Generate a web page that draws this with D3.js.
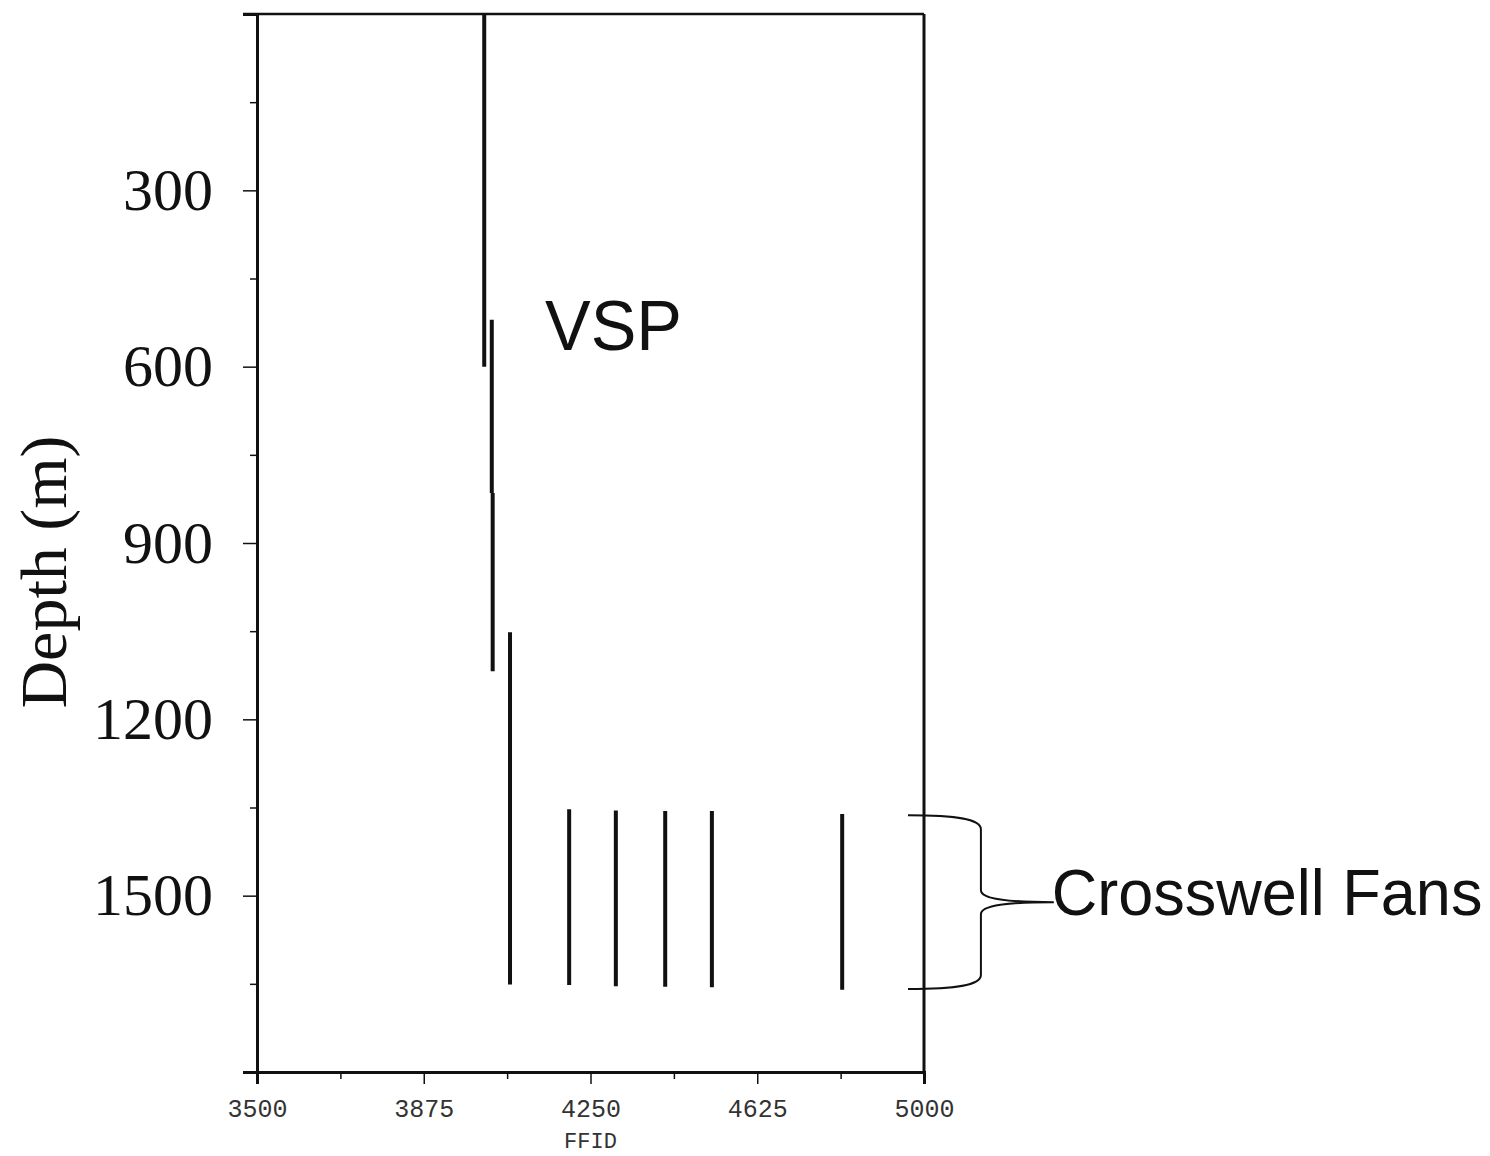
<!DOCTYPE html>
<html>
<head>
<meta charset="utf-8">
<script src="https://cdn.jsdelivr.net/npm/d3@7"></script>
<style>
  html, body { margin: 0; padding: 0; background: #fff; }
  svg { display: block; }
</style>
</head>
<body>
<svg id="chart" width="1490" height="1156"></svg>
<script>
// ---------- data ----------
const xTicks = [3500, 3875, 4250, 4625, 5000];
const xMinorTicks = [3687.5, 4062.5, 4437.5, 4812.5];
const yTicks = [0, 300, 600, 900, 1200, 1500, 1800];
const yLabelled = [300, 600, 900, 1200, 1500];
const yMinorTicks = [150, 450, 750, 1050, 1350, 1650];

// VSP segments (FFID, depth from, depth to)
const vspFfid   = [4011, 4028, 4030, 4069];
const vspTop    = [0, 520, 815, 1052];
const vspBottom = [600, 815, 1118, 1651];

// Crosswell fan segments
const fanFfid   = [4202, 4307, 4418, 4523, 4816];
const fanTop    = [1353, 1355, 1356, 1356, 1361];
const fanBottom = [1652, 1654, 1655, 1656, 1660];

// brace annotation (depth range, FFID positions outside the plot)
const braceDepth = [1363, 1659];
const braceFfid = [4964, 5128, 5292];

const labels = { x: "FFID", y: "Depth (m)", vsp: "VSP", fans: "Crosswell Fans" };

// ---------- scales ----------
const pLeft = 257, pRight = 924, pTop = 14, pBottom = 1072;
const x = d3.scaleLinear().domain([3500, 5000]).range([pLeft, pRight]);
const y = d3.scaleLinear().domain([0, 1800]).range([pTop, pBottom]);

const svg = d3.select("#chart");
svg.append("rect").attr("width", 1490).attr("height", 1156).attr("fill", "#fff");

// ---------- axes ----------
const serif = "'Liberation Serif', 'Times New Roman', serif";
const mono = "'Liberation Mono', 'DejaVu Sans Mono', monospace";
const sans = "'Liberation Sans', Arial, sans-serif";

// y minor
svg.append("g").attr("transform", `translate(${pLeft},0)`)
  .call(d3.axisLeft(y).tickValues(yMinorTicks).tickSize(7).tickFormat(""))
  .call(g => g.select(".domain").remove())
  .call(g => g.selectAll("line").attr("stroke", "#111").attr("stroke-width", 1.5));

// y major
svg.append("g").attr("transform", `translate(${pLeft},0)`)
  .call(d3.axisLeft(y).tickValues(yTicks).tickSize(14).tickPadding(30)
        .tickFormat(d => yLabelled.includes(d) ? d : ""))
  .call(g => g.select(".domain").attr("stroke", "#111").attr("stroke-width", 3))
  .call(g => g.selectAll("line").attr("stroke", "#111").attr("stroke-width", 1.5))
  .call(g => g.selectAll("text").attr("font-family", serif).attr("font-size", 60).attr("fill", "#111"));

// x minor
svg.append("g").attr("transform", `translate(0,${pBottom})`)
  .call(d3.axisBottom(x).tickValues(xMinorTicks).tickSize(7).tickFormat(""))
  .call(g => g.select(".domain").remove())
  .call(g => g.selectAll("line").attr("stroke", "#111").attr("stroke-width", 1.5));

// x major
svg.append("g").attr("transform", `translate(0,${pBottom})`)
  .call(d3.axisBottom(x).tickValues(xTicks).tickSize(12).tickPadding(15).tickFormat(d3.format("d")))
  .call(g => g.select(".domain").attr("stroke", "#111").attr("stroke-width", 3))
  .call(g => g.selectAll("line").attr("stroke", "#111").attr("stroke-width", 1.5))
  .call(g => g.selectAll("text").attr("font-family", mono).attr("font-size", 25).attr("fill", "#333"));

// frame: top and right
svg.append("line").attr("x1", pLeft - 14).attr("x2", pRight).attr("y1", pTop).attr("y2", pTop)
  .attr("stroke", "#111").attr("stroke-width", 2.5);
svg.append("line").attr("x1", pRight).attr("x2", pRight).attr("y1", pTop).attr("y2", pBottom)
  .attr("stroke", "#111").attr("stroke-width", 3);

// axis titles
svg.append("text")
  .attr("transform", `translate(66, 572) rotate(-90)`)
  .attr("text-anchor", "middle")
  .attr("font-family", serif).attr("font-size", 66).attr("fill", "#111")
  .text(labels.y);

svg.append("text")
  .attr("x", x(4250)).attr("y", 1148)
  .attr("text-anchor", "middle")
  .attr("font-family", mono).attr("font-size", 22).attr("fill", "#333")
  .text(labels.x);

// ---------- segments ----------
const vsp = vspFfid.map((f, i) => ({ f, d0: vspTop[i], d1: vspBottom[i] }));
const fans = fanFfid.map((f, i) => ({ f, d0: fanTop[i], d1: fanBottom[i] }));

svg.append("g").selectAll("line").data(vsp).join("line")
  .attr("x1", d => x(d.f)).attr("x2", d => x(d.f))
  .attr("y1", d => y(d.d0)).attr("y2", d => y(d.d1))
  .attr("stroke", "#111").attr("stroke-width", 4);

svg.append("g").selectAll("line").data(fans).join("line")
  .attr("x1", d => x(d.f)).attr("x2", d => x(d.f))
  .attr("y1", d => y(d.d0)).attr("y2", d => y(d.d1))
  .attr("stroke", "#111").attr("stroke-width", 4);

// ---------- annotations ----------
svg.append("text")
  .attr("x", 545).attr("y", 350)
  .attr("font-family", sans).attr("font-size", 70)
  .attr("textLength", 137).attr("lengthAdjust", "spacingAndGlyphs")
  .attr("fill", "#111")
  .text(labels.vsp);

// brace
const bx0 = x(braceFfid[0]), bx1 = x(braceFfid[1]), bx2 = x(braceFfid[2]);
const by0 = y(braceDepth[0]), by1 = y(braceDepth[1]), bm = (by0 + by1) / 2;
const bracePath = `M${bx0},${by0} C${bx0 + 50},${by0} ${bx1},${by0 + 4} ${bx1},${by0 + 14}
  L${bx1},${bm - 12} C${bx1},${bm - 3} ${bx1 + 28},${bm} ${bx2},${bm}
  C${bx1 + 28},${bm} ${bx1},${bm + 3} ${bx1},${bm + 12}
  L${bx1},${by1 - 14} C${bx1},${by1 - 4} ${bx0 + 50},${by1} ${bx0},${by1}`;
svg.append("path").attr("d", bracePath).attr("fill", "none")
  .attr("stroke", "#111").attr("stroke-width", 2);

svg.append("text")
  .attr("transform", `translate(${bx2 - 2}, 915) scale(1, 1.04)`)
  .attr("font-family", sans).attr("font-size", 63)
  .attr("fill", "#111")
  .text(labels.fans);
</script>
</body>
</html>
